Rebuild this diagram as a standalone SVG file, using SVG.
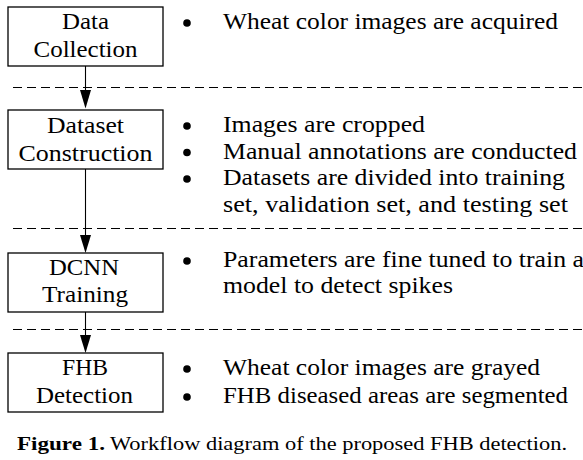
<svg xmlns="http://www.w3.org/2000/svg" width="583" height="460" viewBox="0 0 583 460">
<style>
  .box { fill: #fff; stroke: #000; stroke-width: 1.3; }
  .t { font-family: "Liberation Serif", "Times New Roman", serif; font-size: 23px; fill: #000; }
  .c { text-anchor: middle; }
  .dash { stroke: #000; stroke-width: 1; stroke-dasharray: 9 5; fill: none; }
  .conn { stroke: #000; stroke-width: 1.1; fill: none; }
  .cap { font-family: "Liberation Serif", "Times New Roman", serif; font-size: 18.5px; fill: #000; }
</style>
<rect width="583" height="460" fill="#fff"/>

<g id="separators">
  <line class="dash" x1="13" y1="87.5" x2="583" y2="87.5"/>
  <line class="dash" x1="13" y1="228.5" x2="583" y2="228.5"/>
  <line class="dash" x1="13" y1="329.5" x2="583" y2="329.5"/>
</g>

<g id="connectors">
  <line class="conn" x1="85.5" y1="66" x2="85.5" y2="90"/>
  <polygon points="80,90 91,90 85.5,108.5" fill="#000"/>
  <line class="conn" x1="85.5" y1="169" x2="85.5" y2="235"/>
  <polygon points="80,235 91,235 85.5,253" fill="#000"/>
  <line class="conn" x1="85.5" y1="312" x2="85.5" y2="335"/>
  <polygon points="80,335 91,335 85.5,353" fill="#000"/>
</g>

<g id="node-data-collection">
  <rect class="box" x="8" y="7" width="155" height="59"/>
  <text class="t c" x="85.5" y="29" textLength="47" lengthAdjust="spacingAndGlyphs">Data</text>
  <text class="t c" x="85.5" y="57" textLength="104" lengthAdjust="spacingAndGlyphs">Collection</text>
</g>
<g id="node-dataset-construction">
  <rect class="box" x="8" y="110" width="155" height="59"/>
  <text class="t c" x="85.5" y="133" textLength="77" lengthAdjust="spacingAndGlyphs">Dataset</text>
  <text class="t c" x="85.5" y="161" textLength="134" lengthAdjust="spacingAndGlyphs">Construction</text>
</g>
<g id="node-dcnn-training">
  <rect class="box" x="8" y="253" width="155" height="59"/>
  <text class="t c" x="84" y="275" textLength="70" lengthAdjust="spacingAndGlyphs">DCNN</text>
  <text class="t c" x="85" y="302" textLength="86" lengthAdjust="spacingAndGlyphs">Training</text>
</g>
<g id="node-fhb-detection">
  <rect class="box" x="8" y="353" width="155" height="59"/>
  <text class="t c" x="85" y="375" textLength="46" lengthAdjust="spacingAndGlyphs">FHB</text>
  <text class="t c" x="84.5" y="403" textLength="97" lengthAdjust="spacingAndGlyphs">Detection</text>
</g>

<g id="bullets">
  <circle cx="187" cy="23" r="3.8"/>
  <text class="t" x="223" y="29" textLength="335" lengthAdjust="spacingAndGlyphs">Wheat color images are acquired</text>

  <circle cx="187" cy="126" r="3.8"/>
  <text class="t" x="223" y="132" textLength="202" lengthAdjust="spacingAndGlyphs">Images are cropped</text>
  <circle cx="187" cy="152.5" r="3.8"/>
  <text class="t" x="223" y="158.5" textLength="354" lengthAdjust="spacingAndGlyphs">Manual annotations are conducted</text>
  <circle cx="187" cy="179" r="3.8"/>
  <text class="t" x="223" y="185" textLength="342" lengthAdjust="spacingAndGlyphs">Datasets are divided into training</text>
  <text class="t" x="223" y="212" textLength="345" lengthAdjust="spacingAndGlyphs">set, validation set, and testing set</text>

  <circle cx="187" cy="261" r="3.8"/>
  <text class="t" x="223" y="267" textLength="361" lengthAdjust="spacingAndGlyphs">Parameters are fine tuned to train a</text>
  <text class="t" x="223" y="293" textLength="230" lengthAdjust="spacingAndGlyphs">model to detect spikes</text>

  <circle cx="187" cy="369" r="3.8"/>
  <text class="t" x="223" y="375" textLength="317" lengthAdjust="spacingAndGlyphs">Wheat color images are grayed</text>
  <circle cx="187" cy="397" r="3.8"/>
  <text class="t" x="223" y="403" textLength="345" lengthAdjust="spacingAndGlyphs">FHB diseased areas are segmented</text>
</g>

<g id="caption">
  <text class="cap" x="17" y="450" font-weight="bold" textLength="88" lengthAdjust="spacingAndGlyphs">Figure 1.</text>
  <text class="cap" x="110" y="450" textLength="457" lengthAdjust="spacingAndGlyphs">Workflow diagram of the proposed FHB detection.</text>
</g>
</svg>
